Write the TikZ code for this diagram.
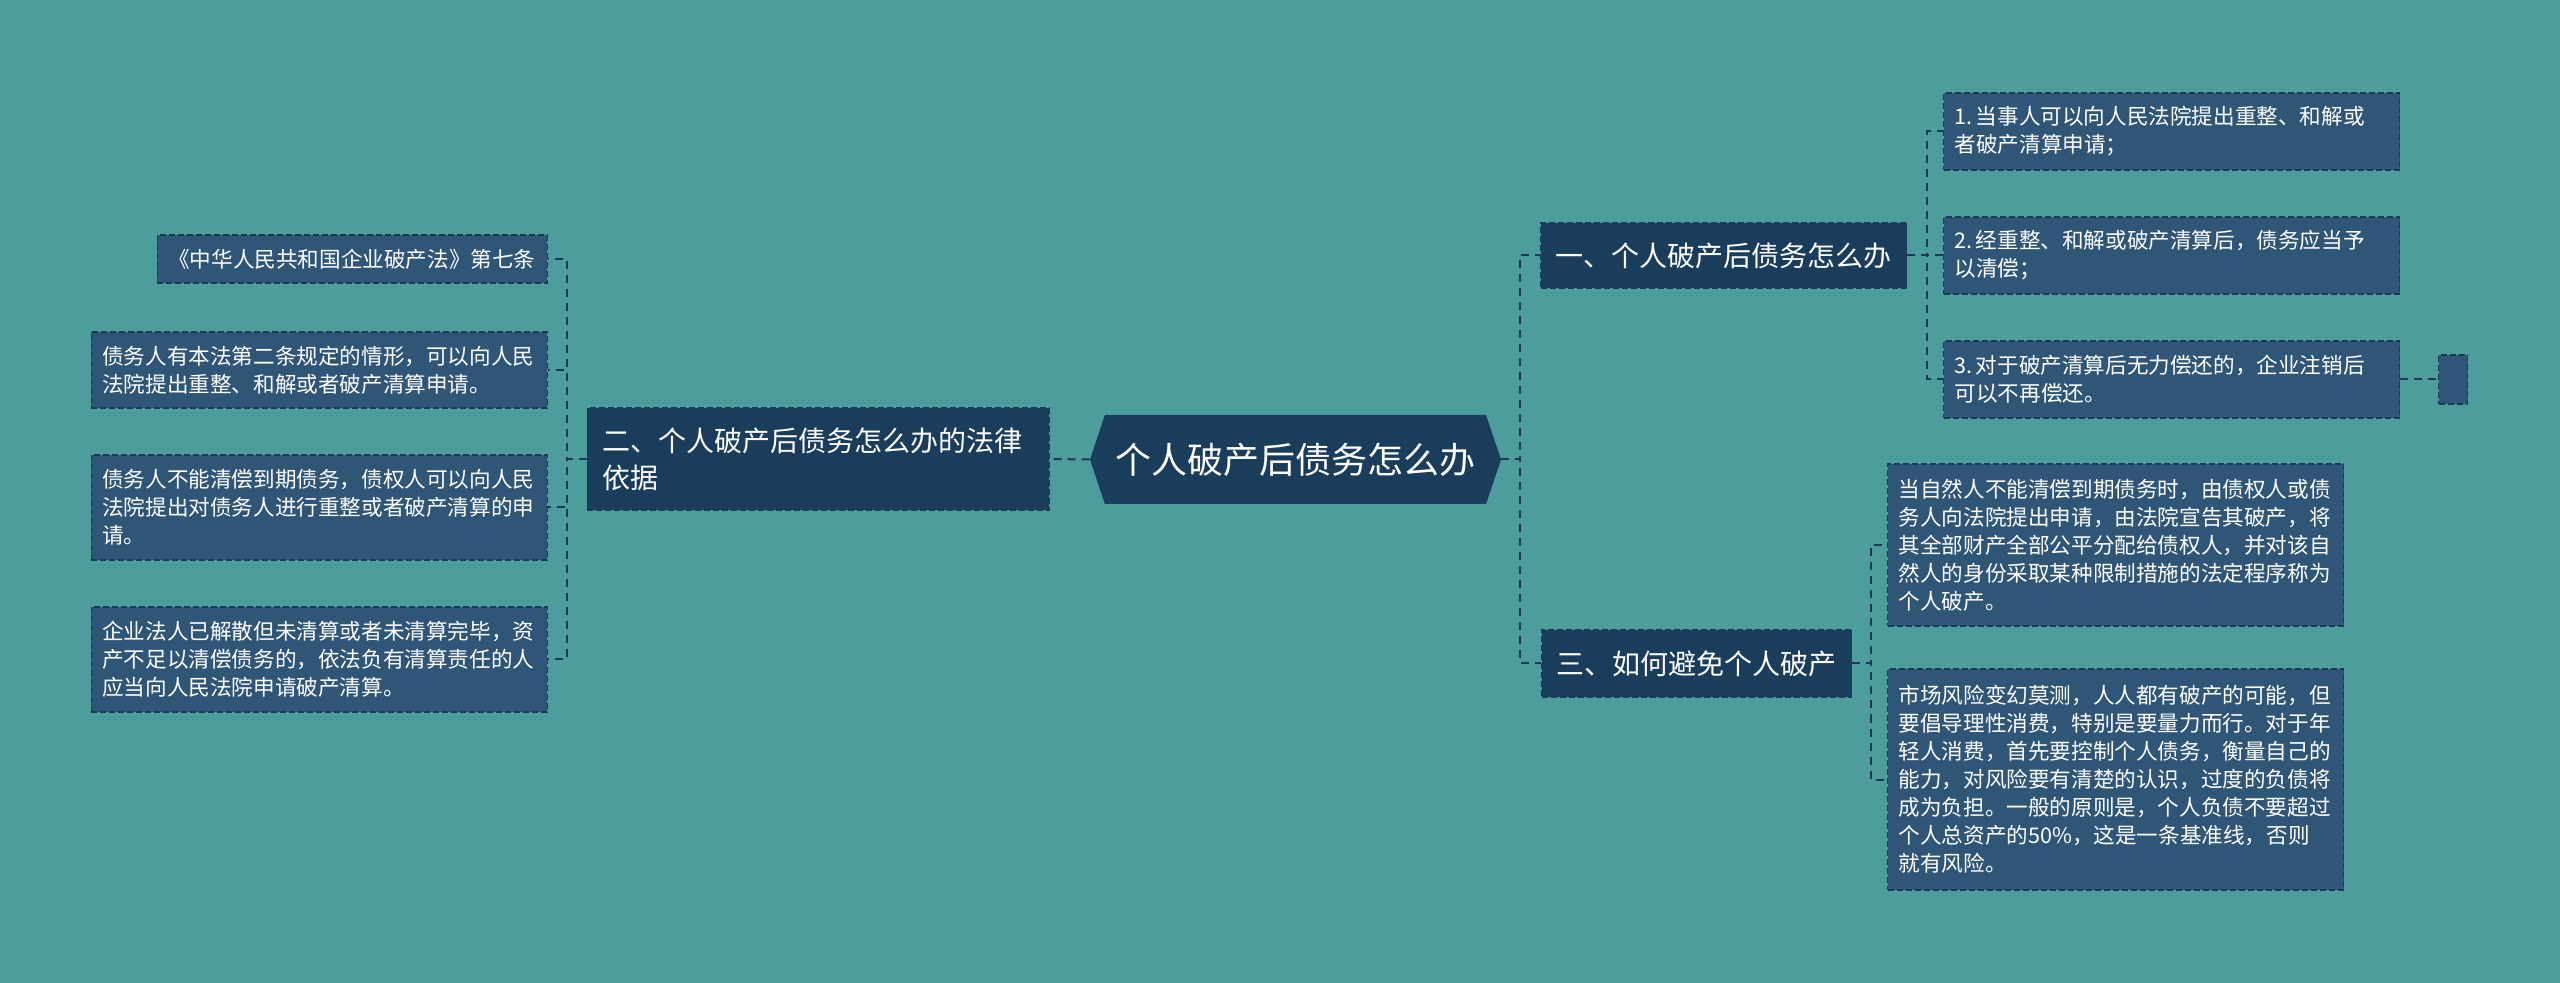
\documentclass[tikz,border=0pt]{standalone}
\usepackage{fontspec}
\setmainfont{Noto Sans CJK SC}
\usetikzlibrary{shapes.symbols}

\definecolor{bgteal}{HTML}{4E9D9D}
\definecolor{darknavy}{HTML}{1A3D5C}
\definecolor{leafblue}{HTML}{2F5676}
\definecolor{linenavy}{HTML}{1B3A55}

\tikzset{
  conn/.style={draw=linenavy, line width=1pt, dash pattern=on 4pt off 3pt},
  rootbox/.style={signal, signal to=east and west, signal pointer angle=143,
    fill=darknavy, minimum width=205.5pt, minimum height=44.5pt, inner sep=0pt,
    text=white, font=\fontsize{18}{22}\selectfont},
  topicbox/.style={rectangle, fill=darknavy, draw=linenavy, line width=0.7pt,
    dash pattern=on 3pt off 1.5pt, text=white, align=left,
    font=\fontsize{14}{18.5}\selectfont, inner xsep=7.5pt, inner ysep=0pt},
  leafbox/.style={rectangle, fill=leafblue, draw=linenavy, line width=0.7pt,
    dash pattern=on 3pt off 1.5pt, text=white, align=left, text width=217pt,
    font=\fontsize{10.8}{14}\selectfont, inner xsep=5.5pt, inner ysep=0pt}
}

\begin{document}
\begin{tikzpicture}[x=0.5pt, y=-0.5pt]

% 背景
\fill[bgteal] (0,0) rectangle (2560,983);
\useasboundingbox (0,0) rectangle (2560,983);

% 中心主题
\node[rootbox] (root) at (1295.5,459.5) {个人破产后债务怎么办};

% 二、法律依据 (左侧)
\node[topicbox, text width=216pt, minimum height=51pt, anchor=east] (law) at (1050,459)
  {二、个人破产后债务怎么办的法律\\依据};

\node[leafbox, text width=184pt, minimum height=24pt, anchor=east] (law1) at (548,259)
  {《中华人民共和国企业破产法》第七条};
\node[leafbox, minimum height=38pt, anchor=east] (law2) at (548,370)
  {债务人有本法第二条规定的情形，可以向人民\\法院提出重整、和解或者破产清算申请。};
\node[leafbox, minimum height=52.5pt, anchor=east] (law3) at (548,507.5)
  {债务人不能清偿到期债务，债权人可以向人民\\法院提出对债务人进行重整或者破产清算的申\\请。};
\node[leafbox, minimum height=52.5pt, anchor=east] (law4) at (548,659.5)
  {企业法人已解散但未清算或者未清算完毕，资\\产不足以清偿债务的，依法负有清算责任的人\\应当向人民法院申请破产清算。};

% 一、怎么办 (右上)
\node[topicbox, minimum width=181pt, minimum height=32.5pt, anchor=west] (how) at (1540,255.5)
  {一、个人破产后债务怎么办};

\node[leafbox, minimum height=38.5pt, anchor=west] (how1) at (1943,131.5)
  {1.\hspace{0.15em}当事人可以向人民法院提出重整、和解或\\者破产清算申请；};
\node[leafbox, minimum height=38.5pt, anchor=west] (how2) at (1943,255.5)
  {2.\hspace{0.15em}经重整、和解或破产清算后，债务应当予\\以清偿；};
\node[leafbox, minimum height=38.5pt, anchor=west] (how3) at (1943,379.5)
  {3.\hspace{0.15em}对于破产清算后无力偿还的，企业注销后\\可以不再偿还。};
\node[leafbox, text width=3.5pt, minimum height=24.5pt, anchor=west] (tail) at (2438,379.5) {};

% 三、如何避免 (右下)
\node[topicbox, minimum width=153.5pt, minimum height=33.5pt, anchor=west] (avoid) at (1541,663.5)
  {三、如何避免个人破产};

\node[leafbox, minimum height=81pt, anchor=west] (avoid1) at (1887,545)
  {当自然人不能清偿到期债务时，由债权人或债\\务人向法院提出申请，由法院宣告其破产，将\\其全部财产全部公平分配给债权人，并对该自\\然人的身份采取某种限制措施的法定程序称为\\个人破产。};
\node[leafbox, minimum height=110.5pt, anchor=west] (avoid2) at (1887,779.5)
  {市场风险变幻莫测，人人都有破产的可能，但\\要倡导理性消费，特别是要量力而行。对于年\\轻人消费，首先要控制个人债务，衡量自己的\\能力，对风险要有清楚的认识，过度的负债将\\成为负担。一般的原则是，个人负债不要超过\\个人总资产的50\%，这是一条基准线，否则\\就有风险。};

% 连线
\draw[conn] (root.west) -- (law.east);
\foreach \n in {law1,law2,law3,law4}
  \draw[conn] (law.west) -- ++(-20,0) |- (\n.east);

\foreach \n in {how,avoid}
  \draw[conn] (root.east) -- ++(19,0) |- (\n.west);

\foreach \n in {how1,how2,how3}
  \draw[conn] (how.east) -- ++(20,0) |- (\n.west);
\draw[conn] (how3.east) -- (tail.west);

\foreach \n in {avoid1,avoid2}
  \draw[conn] (avoid.east) -- ++(19,0) |- (\n.west);

\end{tikzpicture}
\end{document}
